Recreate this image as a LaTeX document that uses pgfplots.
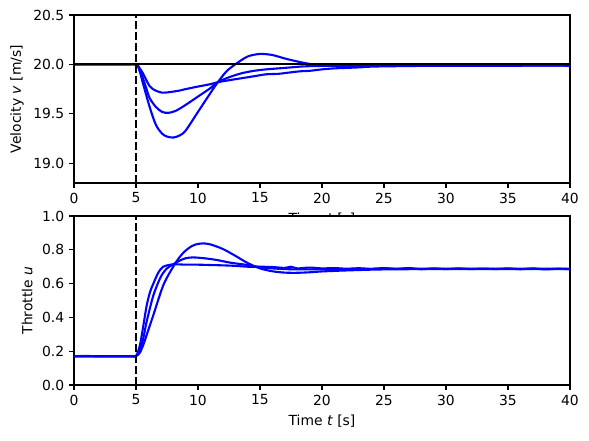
\documentclass[border=0pt]{standalone}
\usepackage{pgfplots}
\pgfplotsset{compat=1.18}
\usepackage{fontspec}
\setmainfont{DejaVu Sans}

\pgfplotstableread{
t v
0 20
4 20
5 20
5.3 19.96
5.56 19.91
5.8 19.85
6.1 19.78
6.5 19.74
7.07 19.715
7.6 19.718
8.5 19.735
9 19.75
10 19.776
11 19.80
11.6 19.82
12.5 19.84
13.5 19.86
14.5 19.88
15.5 19.90
16.5 19.905
17.5 19.92
18.2 19.93
19 19.935
20 19.95
21 19.96
22 19.965
23 19.97
24 19.978
25 19.98
26 19.982
28 19.985
30 19.986
33 19.986
36 19.987
40 19.987
}\velA

\pgfplotstableread{
t v
0 20
4 20
5 20
5.3 19.95
5.56 19.86
5.8 19.77
6.1 19.66
6.6 19.57
7.1 19.52
7.6 19.51
8.2 19.53
9 19.59
10 19.675
11 19.76
11.6 19.82
12.5 19.87
13.5 19.91
14.5 19.935
15.5 19.95
16.5 19.96
17.5 19.97
18.5 19.98
20 19.985
22 19.99
25 19.99
30 19.99
40 19.99
}\velB

\pgfplotstableread{
t v
0 20
4 20
5 20
5.3 19.93
5.56 19.81
6.1 19.57
6.6 19.39
7.1 19.30
7.5 19.27
8 19.26
8.5 19.28
9 19.33
10 19.52
11 19.71
11.6 19.82
12.3 19.93
13 20.0
14 20.08
15 20.106
16 20.095
17 20.06
18 20.03
19 20.005
20 19.99
21 19.985
23 19.985
25 19.99
30 19.99
40 19.99
}\velC

\pgfplotstableread{
t u
0 0.17
1 0.172
2 0.17
4.5 0.17
5 0.172
5.32 0.237
5.6 0.355
5.86 0.47
6.13 0.55
6.4 0.60
6.8 0.665
7.2 0.70
8 0.714
9 0.712
10 0.712
11 0.71
12 0.708
13 0.705
14 0.70
15 0.70
16 0.698
17 0.693
17.5 0.70
18 0.69
19 0.695
20 0.69
21 0.692
22 0.688
23 0.691
24 0.687
25 0.692
26 0.687
27 0.692
28 0.685
29 0.69
30 0.686
31 0.69
32 0.686
33 0.689
34 0.686
35 0.69
36 0.685
37 0.69
38 0.684
39 0.688
40 0.685
}\thrA

\pgfplotstableread{
t u
0 0.17
4.5 0.17
5 0.172
5.3 0.20
5.6 0.28
5.86 0.375
6.4 0.53
7 0.64
7.5 0.69
8 0.714
8.5 0.735
9 0.75
9.6 0.755
10.5 0.75
11.5 0.74
12.6 0.724
14 0.71
15 0.697
16 0.69
17 0.686
18 0.684
20 0.684
22 0.686
25 0.688
30 0.688
40 0.688
}\thrB

\pgfplotstableread{
t u
0 0.17
4.5 0.17
5 0.172
5.3 0.19
5.6 0.24
5.86 0.296
6.4 0.414
7.2 0.59
8 0.70
8.55 0.76
9 0.795
9.5 0.822
10 0.835
10.4 0.838
11 0.832
12 0.805
13 0.765
14 0.722
15 0.69
16 0.673
17 0.665
18 0.664
19 0.667
20 0.672
22 0.678
25 0.684
30 0.686
40 0.686
}\thrC

\begin{document}
\fontsize{13.9}{16.5}\selectfont
\begin{tikzpicture}
\pgfplotsset{
  myax/.style={
    scale only axis, width=496pt,
    xmin=0, xmax=40, xtick={0,5,...,40},
    axis line style={line width=1.1pt},
    every tick/.style={black, line width=1.1pt},
    tick align=outside, major tick length=4.9pt,
    xtick pos=bottom, ytick pos=left,
    /pgf/number format/assume math mode=true,
    tick label style={font=\fontsize{13.9}{16.5}\selectfont},
    label style={font=\fontsize{13.9}{16.5}\selectfont},
    yticklabel style={/pgf/number format/.cd, fixed, fixed zerofill, precision=1},
    axis background/.style={fill=white},
    clip=true,
  },
  blu/.style={color={rgb,255:red,0;green,0;blue,255}, line width=2.1pt, smooth, tension=0.5},
}
\begin{axis}[myax, at={(0pt,0pt)}, anchor=north west, height=168pt,
  ymin=18.8, ymax=20.5, ytick={19.0,19.5,20.0,20.5},
  xlabel={Time \textit{t} [s]}, ylabel={Velocity \textit{v} [m/s]}]
\addplot[blu] table[x=t,y=v] {\velA};
\addplot[blu] table[x=t,y=v] {\velB};
\addplot[blu] table[x=t,y=v] {\velC};
\addplot[black, line width=2.1pt] coordinates {(0,20) (40,20)};
\addplot[black, line width=2.1pt, dash pattern=on 7.7pt off 3.3pt] coordinates {(5,18.8) (5,20.5)};
\end{axis}
\begin{axis}[myax, at={(0pt,-201pt)}, anchor=north west, height=169pt,
  ymin=0, ymax=1, ytick={0,0.2,...,1.0},
  xlabel={Time \textit{t} [s]}, ylabel={Throttle \textit{u}}]
\addplot[blu] table[x=t,y=u] {\thrA};
\addplot[blu] table[x=t,y=u] {\thrB};
\addplot[blu] table[x=t,y=u] {\thrC};
\addplot[black, line width=2.1pt, dash pattern=on 7.7pt off 3.3pt] coordinates {(5,0) (5,1)};
\end{axis}
\pgfresetboundingbox
\path (-74pt,15pt) rectangle (515pt,-425pt);
\end{tikzpicture}
\end{document}
